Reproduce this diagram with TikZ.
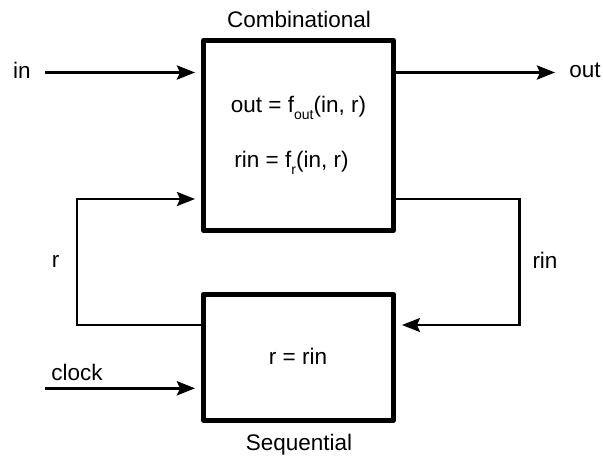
\documentclass[tikz,border=0pt]{standalone}
\usepackage{fontspec}
\setmainfont{Liberation Sans}
\usetikzlibrary{arrows.meta}
\newcommand\lowidx[1]{\raisebox{-0.28em}{\fontsize{14}{14}\selectfont #1}}
\begin{document}
\begin{tikzpicture}[x=1pt,y=-1pt,
  every node/.style={font=\fontsize{22.5}{27}\selectfont, inner sep=0pt},
  blockbox/.style={draw, line width=5pt, rectangle, line join=round},
  label/.style={anchor=base},
  bus/.style={line width=3pt, -{Stealth[length=18pt,width=14pt,inset=3pt]}},
  loopline/.style={line width=2.3pt, line join=miter, -{Stealth[length=18pt,width=14pt,inset=3pt]}},
  gap/.style={shorten >=6pt}]
  \useasboundingbox (0,0) rectangle (603,457);

  % the two blocks
  \node[blockbox, minimum width=190pt, minimum height=190pt] (comb) at (298.5,135.4) {};
  \node[blockbox, minimum width=190pt, minimum height=126pt] (seq) at (298.5,357.2) {};

  % block titles and equations
  \node[label] (combtitle) at (299,28) {Combinational};
  \node[label] (seqtitle) at (299,450) {Sequential};
  \node[label] (fout) at (298.5,113) {out = f\lowidx{out}(in, r)};
  \node[label] (fr) at (291.5,168) {rin = f\lowidx{r}(in, r)};
  \node[label] (update) at (298,365) {r = rin};

  % signal names
  \node[label] (inlbl) at (22,79) {in};
  \node[label] (outlbl) at (585,78) {out};
  \node[label] (rlbl) at (55.5,268) {r};
  \node[label] (rinlbl) at (545,269) {rin};
  \node[label] (clklbl) at (77,381) {clock};

  % connector end points and corners
  \coordinate (inStart) at (45,72.5);
  \coordinate (outEnd) at (555,72.5);
  \coordinate (clkStart) at (45,388.3);
  \coordinate (rLow) at (77,325);
  \coordinate (rHigh) at (77,199);
  \coordinate (rinHigh) at (519.5,199);
  \coordinate (rinLow) at (519.5,325);

  % primary input and output
  \draw[bus, gap] (inStart) -- (comb.west |- inStart);
  \draw[bus] (comb.east |- outEnd) -- (outEnd);
  \draw[bus, gap] (clkStart) -- (seq.west |- clkStart);

  % feedback loop through the register
  \draw[loopline, gap] (seq.west |- rLow) -- (rLow) -- (rHigh) -- (comb.west |- rHigh);
  \draw[loopline, gap] (comb.east |- rinHigh) -- (rinHigh) -- (rinLow) -- (seq.east |- rinLow);
\end{tikzpicture}
\end{document}
